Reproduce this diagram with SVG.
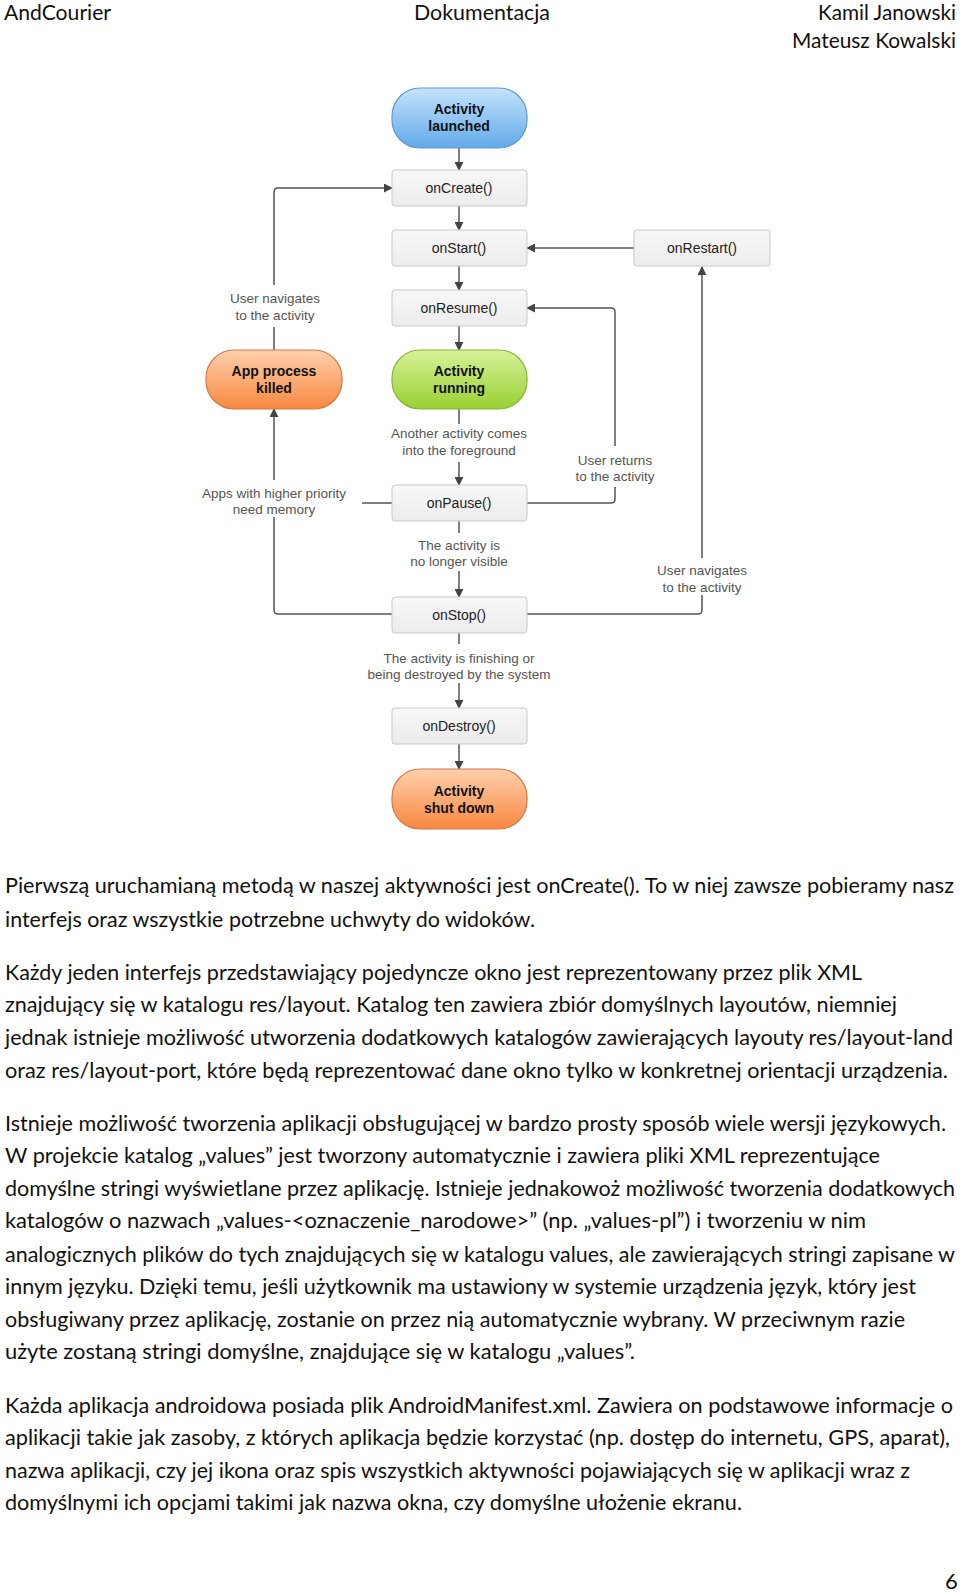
<svg xmlns="http://www.w3.org/2000/svg" width="960" height="1592" viewBox="0 0 960 1592">
<defs>
<style>
.body{font-family:Lato,"Liberation Sans",sans-serif;font-size:22px;fill:#111}
.box rect{fill:url(#gBox);stroke:#c9c9c9;stroke-width:1}
.box text{font-family:"Liberation Sans",Arial,sans-serif;font-size:14px;fill:#222;text-anchor:middle}
.pill text{font-family:"Liberation Sans",Arial,sans-serif;font-size:14px;font-weight:bold;fill:#111;text-anchor:middle}
.lbl{font-family:"Liberation Sans",Arial,sans-serif;font-size:13.5px;fill:#555;text-anchor:middle}
.con path{fill:none;stroke:#555;stroke-width:1.5}
.arr{marker-end:url(#ah)}
</style>
<marker id="ah" viewBox="0 0 10 10" refX="9" refY="5" markerWidth="6" markerHeight="6" markerUnits="strokeWidth" orient="auto">
<path d="M0,0 L10,5 L0,10 z" fill="#444"/>
</marker>
<linearGradient id="gBox" x1="0" y1="0" x2="0" y2="1"><stop offset="0" stop-color="#f7f7f7"/><stop offset="1" stop-color="#ececec"/></linearGradient>
<linearGradient id="gBlue" x1="0" y1="0" x2="0" y2="1"><stop offset="0" stop-color="#c4e3fb"/><stop offset="1" stop-color="#62a9ea"/></linearGradient>
<linearGradient id="gGreen" x1="0" y1="0" x2="0" y2="1"><stop offset="0" stop-color="#d8f29a"/><stop offset="1" stop-color="#98d032"/></linearGradient>
<linearGradient id="gOrange" x1="0" y1="0" x2="0" y2="1"><stop offset="0" stop-color="#ffd0ad"/><stop offset="1" stop-color="#f7883f"/></linearGradient>
</defs>
<rect width="960" height="1592" fill="#fff"/>

<g id="header" class="body">
<text x="4" y="20" textLength="107" lengthAdjust="spacingAndGlyphs">AndCourier</text>
<text x="414" y="20" textLength="136" lengthAdjust="spacingAndGlyphs">Dokumentacja</text>
<text x="818" y="20" textLength="138" lengthAdjust="spacingAndGlyphs">Kamil Janowski</text>
<text x="792" y="48" textLength="164" lengthAdjust="spacingAndGlyphs">Mateusz Kowalski</text>
</g>

<g id="connectors" class="con">
<path class="arr" d="M459 148 V170"/>
<path class="arr" d="M459 206 V230"/>
<path class="arr" d="M459 266 V290"/>
<path class="arr" d="M459 326 V350"/>
<path d="M459 409 V424"/>
<path class="arr" d="M459 462 V485"/>
<path d="M459 521 V533"/>
<path class="arr" d="M459 571 V597"/>
<path d="M459 632 V644"/>
<path class="arr" d="M459 683 V708"/>
<path class="arr" d="M459 744 V769"/>
<path class="arr" d="M274 285 V192 Q274 188 278 188 H392"/>
<path d="M274 327 V350"/>
<path class="arr" d="M634 248 H527"/>
<path d="M527 503 H611 Q615 503 615 499 V487"/>
<path class="arr" d="M615 446 V312 Q615 308 611 308 H527"/>
<path d="M527 614 H698 Q702 614 702 610 V595"/>
<path class="arr" d="M702 558 V267"/>
<path d="M392 614 H278 Q274 614 274 610 V517"/>
<path class="arr" d="M274 480 V409"/>
<path d="M392 503 H362"/>
</g>

<g id="activity-launched" class="pill">
<rect x="392" y="88" width="135" height="60" rx="28" fill="url(#gBlue)" stroke="#5f98cf" stroke-width="1.2"/>
<text x="459" y="114">Activity</text>
<text x="459" y="131">launched</text>
</g>
<g id="onCreate" class="box"><rect x="392" y="170" width="135" height="36" rx="3"/><text x="459" y="193">onCreate()</text></g>
<g id="onStart" class="box"><rect x="392" y="230" width="135" height="36" rx="3"/><text x="459" y="253">onStart()</text></g>
<g id="onRestart" class="box"><rect x="634" y="230" width="136" height="36" rx="3"/><text x="702" y="253">onRestart()</text></g>
<g id="onResume" class="box"><rect x="392" y="290" width="135" height="36" rx="3"/><text x="459" y="313">onResume()</text></g>
<g id="activity-running" class="pill">
<rect x="392" y="350" width="135" height="59" rx="28" fill="url(#gGreen)" stroke="#86b535" stroke-width="1.2"/>
<text x="459" y="376">Activity</text>
<text x="459" y="393">running</text>
</g>
<g id="app-process-killed" class="pill">
<rect x="206" y="350" width="136" height="59" rx="28" fill="url(#gOrange)" stroke="#d07a44" stroke-width="1.2"/>
<text x="274" y="376">App process</text>
<text x="274" y="393">killed</text>
</g>
<g id="onPause" class="box"><rect x="392" y="485" width="135" height="36" rx="3"/><text x="459" y="508">onPause()</text></g>
<g id="onStop" class="box"><rect x="392" y="597" width="135" height="36" rx="3"/><text x="459" y="620">onStop()</text></g>
<g id="onDestroy" class="box"><rect x="392" y="708" width="135" height="36" rx="3"/><text x="459" y="731">onDestroy()</text></g>
<g id="activity-shut-down" class="pill">
<rect x="392" y="769" width="135" height="60" rx="28" fill="url(#gOrange)" stroke="#d07a44" stroke-width="1.2"/>
<text x="459" y="796">Activity</text>
<text x="459" y="813">shut down</text>
</g>

<g id="labels">
<text class="lbl" x="275" y="303">User navigates</text>
<text class="lbl" x="275" y="320">to the activity</text>
<text class="lbl" x="459" y="438">Another activity comes</text>
<text class="lbl" x="459" y="455">into the foreground</text>
<text class="lbl" x="615" y="465">User returns</text>
<text class="lbl" x="615" y="481">to the activity</text>
<text class="lbl" x="274" y="498">Apps with higher priority</text>
<text class="lbl" x="274" y="514">need memory</text>
<text class="lbl" x="459" y="550">The activity is</text>
<text class="lbl" x="459" y="566">no longer visible</text>
<text class="lbl" x="702" y="575">User navigates</text>
<text class="lbl" x="702" y="592">to the activity</text>
<text class="lbl" x="459" y="663">The activity is finishing or</text>
<text class="lbl" x="459" y="679">being destroyed by the system</text>
</g>

<g id="body-text" class="body">
<text x="5" y="893" textLength="949" lengthAdjust="spacingAndGlyphs">Pierwszą uruchamianą metodą w naszej aktywności jest onCreate(). To w niej zawsze pobieramy nasz</text>
<text x="5" y="927" textLength="530" lengthAdjust="spacingAndGlyphs">interfejs oraz wszystkie potrzebne uchwyty do widoków.</text>
<text x="5" y="980" textLength="857" lengthAdjust="spacingAndGlyphs">Każdy jeden interfejs przedstawiający pojedyncze okno jest reprezentowany przez plik XML</text>
<text x="5" y="1012" textLength="892" lengthAdjust="spacingAndGlyphs">znajdujący się w katalogu res/layout. Katalog ten zawiera zbiór domyślnych layoutów, niemniej</text>
<text x="5" y="1045" textLength="948" lengthAdjust="spacingAndGlyphs">jednak istnieje możliwość utworzenia dodatkowych katalogów zawierających layouty res/layout-land</text>
<text x="5" y="1078" textLength="943" lengthAdjust="spacingAndGlyphs">oraz res/layout-port, które będą reprezentować dane okno tylko w konkretnej orientacji urządzenia.</text>
<text x="5" y="1131" textLength="941" lengthAdjust="spacingAndGlyphs">Istnieje możliwość tworzenia aplikacji obsługującej w bardzo prosty sposób wiele wersji językowych.</text>
<text x="5" y="1163" textLength="875" lengthAdjust="spacingAndGlyphs">W projekcie katalog „values” jest tworzony automatycznie i zawiera pliki XML reprezentujące</text>
<text x="5" y="1196" textLength="950" lengthAdjust="spacingAndGlyphs">domyślne stringi wyświetlane przez aplikację. Istnieje jednakowoż możliwość tworzenia dodatkowych</text>
<text x="5" y="1228" textLength="861" lengthAdjust="spacingAndGlyphs">katalogów o nazwach „values-&lt;oznaczenie_narodowe&gt;” (np. „values-pl”) i tworzeniu w nim</text>
<text x="5" y="1262" textLength="950" lengthAdjust="spacingAndGlyphs">analogicznych plików do tych znajdujących się w katalogu values, ale zawierających stringi zapisane w</text>
<text x="5" y="1294" textLength="911" lengthAdjust="spacingAndGlyphs">innym języku. Dzięki temu, jeśli użytkownik ma ustawiony w systemie urządzenia język, który jest</text>
<text x="5" y="1327" textLength="900" lengthAdjust="spacingAndGlyphs">obsługiwany przez aplikację, zostanie on przez nią automatycznie wybrany. W przeciwnym razie</text>
<text x="5" y="1359" textLength="630" lengthAdjust="spacingAndGlyphs">użyte zostaną stringi domyślne, znajdujące się w katalogu „values”.</text>
<text x="5" y="1413" textLength="948" lengthAdjust="spacingAndGlyphs">Każda aplikacja androidowa posiada plik AndroidManifest.xml. Zawiera on podstawowe informacje o</text>
<text x="5" y="1445" textLength="945" lengthAdjust="spacingAndGlyphs">aplikacji takie jak zasoby, z których aplikacja będzie korzystać (np. dostęp do internetu, GPS, aparat),</text>
<text x="5" y="1478" textLength="905" lengthAdjust="spacingAndGlyphs">nazwa aplikacji, czy jej ikona oraz spis wszystkich aktywności pojawiających się w aplikacji wraz z</text>
<text x="5" y="1510" textLength="737" lengthAdjust="spacingAndGlyphs">domyślnymi ich opcjami takimi jak nazwa okna, czy domyślne ułożenie ekranu.</text>
<text x="945" y="1589">6</text>
</g>
</svg>
